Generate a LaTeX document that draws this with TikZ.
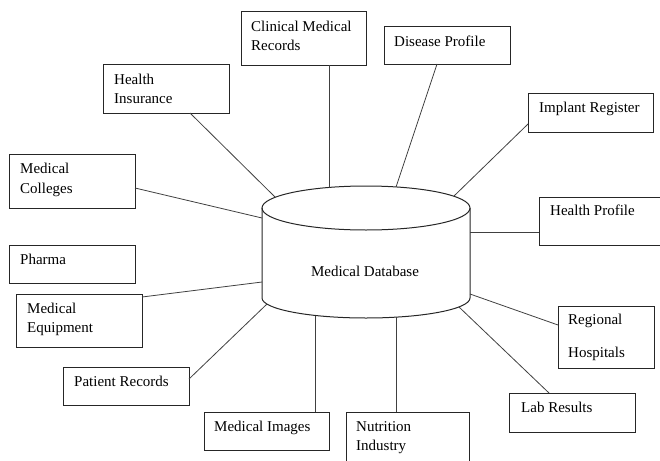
\documentclass[tikz,border=0pt]{standalone}
\usepackage{fontspec}
\setmainfont{Liberation Serif}
\usetikzlibrary{calc}
\begin{document}
\begin{tikzpicture}[x=1pt,y=-1pt,
  box/.style={draw=black!85, line width=1pt, anchor=north west, inner sep=0pt, outer sep=0pt},
  lbl/.style={anchor=base west, inner sep=0pt, font=\fontsize{15}{18}\selectfont},
  conn/.style={draw=black!75, line width=0.8pt},
  cyl/.style={draw=black!85, line width=1pt}]
\useasboundingbox (0,0) rectangle (660,460);
\clip (0,0) rectangle (660,460);
% boxes
\node[box, minimum width=125, minimum height=53] (cmr) at (241,12) {};
\node[box, minimum width=126, minimum height=37] (dp) at (384,27) {};
\node[box, minimum width=126, minimum height=49] (hi) at (103,64) {};
\node[box, minimum width=125, minimum height=39] (ir) at (528,93) {};
\node[box, minimum width=126, minimum height=54] (mc) at (9,154) {};
\node[box, minimum width=130, minimum height=48] (hp) at (539,197) {};
\node[box, minimum width=126, minimum height=38] (ph) at (9,245) {};
\node[box, minimum width=126, minimum height=53] (me) at (16,294) {};
\node[box, minimum width=126, minimum height=38] (pr) at (63,367) {};
\node[box, minimum width=125, minimum height=38] (mi) at (204,412) {};
\node[box, minimum width=123, minimum height=60] (ni) at (346,412) {};
\node[box, minimum width=126, minimum height=39] (lr) at (509,393) {};
\node[box, minimum width=96, minimum height=62] (rh) at (558,306) {};
% labels
\node[lbl] (cmr1) at ([shift={(10,19)}]cmr.north west) {Clinical Medical};
\node[lbl] (cmr2) at ([shift={(10,39)}]cmr.north west) {Records};
\node[lbl] (dp1) at ([shift={(10,19)}]dp.north west) {Disease Profile};
\node[lbl] (hi1) at ([shift={(11,20)}]hi.north west) {Health};
\node[lbl] (hi2) at ([shift={(11,39)}]hi.north west) {Insurance};
\node[lbl] (ir1) at ([shift={(11,19)}]ir.north west) {Implant Register};
\node[lbl] (mc1) at ([shift={(11,19)}]mc.north west) {Medical};
\node[lbl] (mc2) at ([shift={(11,39)}]mc.north west) {Colleges};
\node[lbl] (hp1) at ([shift={(11,18)}]hp.north west) {Health Profile};
\node[lbl] (ph1) at ([shift={(11,19)}]ph.north west) {Pharma};
\node[lbl] (me1) at ([shift={(11,19)}]me.north west) {Medical};
\node[lbl] (me2) at ([shift={(11,38)}]me.north west) {Equipment};
\node[lbl] (pr1) at ([shift={(11,19)}]pr.north west) {Patient Records};
\node[lbl] (mi1) at ([shift={(10,19)}]mi.north west) {Medical Images};
\node[lbl] (ni1) at ([shift={(10,19)}]ni.north west) {Nutrition};
\node[lbl] (ni2) at ([shift={(10,38)}]ni.north west) {Industry};
\node[lbl] (lr1) at ([shift={(12,19.5)}]lr.north west) {Lab Results};
\node[lbl] (rh1) at ([shift={(10,18)}]rh.north west) {Regional};
\node[lbl] (rh2) at ([shift={(10,51.5)}]rh.north west) {Hospitals};
% cylinder
\draw[cyl] (366,208) ellipse [x radius=104pt, y radius=22pt];
\draw[cyl] (262,208) -- (262,298)
  .. controls (262,309) and (308.6,318) .. (366,318)
  .. controls (423.4,318) and (470,309) .. (470,298) -- (470,208);
\node[anchor=base, inner sep=0pt, font=\fontsize{15}{18}\selectfont] (db) at (365,276) {Medical Database};
% attachment points on the cylinder
\coordinate (tcmr) at (329,187.5);
\coordinate (tdp) at (396,187);
\coordinate (thi) at (275,197);
\coordinate (tir) at (454,196);
\coordinate (tmc) at (262,218);
\coordinate (thp) at (470,232);
\coordinate (tme) at (262,282);
\coordinate (tpr) at (267,304);
\coordinate (tmi) at (315,315.5);
\coordinate (tni) at (396,317);
\coordinate (tlr) at (459,307);
\coordinate (trh) at (470,294);
% connectors
\draw[conn] (cmr.south -| tcmr) -- (tcmr);
\draw[conn] ($(dp.south west)+(53,0)$) -- (tdp);
\draw[conn] ($(hi.south west)+(87,0)$) -- (thi);
\draw[conn] ($(ir.north west)+(0,31)$) -- (tir);
\draw[conn] ($(mc.north east)+(0,34)$) -- (tmc);
\draw[conn] (thp) -- (hp.west |- thp);
\draw[conn] ($(me.north east)+(0,3)$) -- (tme);
\draw[conn] ($(pr.north east)+(0,12)$) -- (tpr);
\draw[conn] (mi.north -| tmi) -- (tmi);
\draw[conn] (ni.north -| tni) -- (tni);
\draw[conn] ($(lr.north west)+(40,0)$) -- (tlr);
\draw[conn] ($(rh.north west)+(0,19)$) -- (trh);
\end{tikzpicture}
\end{document}
